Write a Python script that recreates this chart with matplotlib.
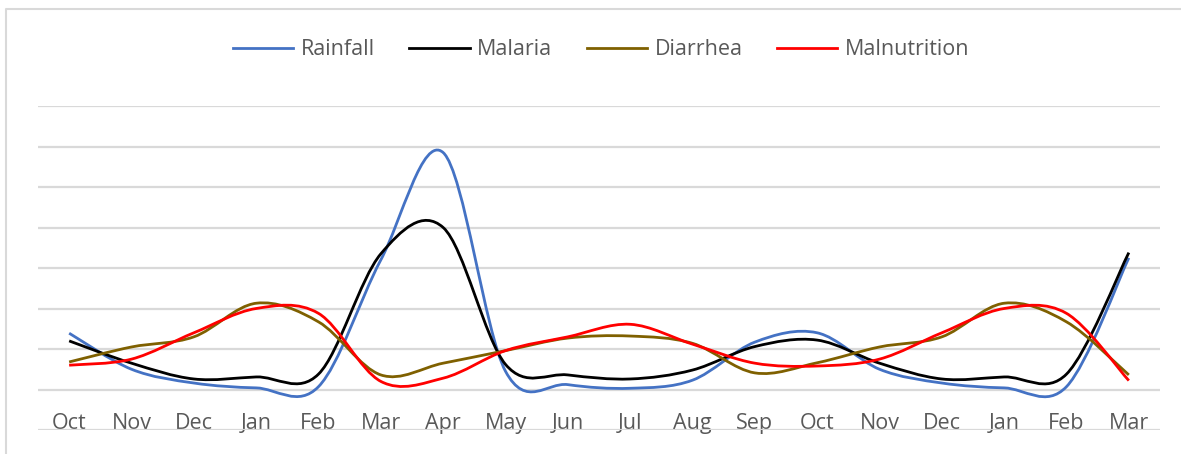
import numpy as np
import matplotlib.pyplot as plt
from matplotlib.lines import Line2D
from matplotlib.path import Path
from matplotlib.patches import PathPatch

months = ['Oct', 'Nov', 'Dec', 'Jan', 'Feb', 'Mar', 'Apr', 'May', 'Jun',
          'Jul', 'Aug', 'Sep', 'Oct', 'Nov', 'Dec', 'Jan', 'Feb', 'Mar']

rainfall = [2.39, 1.50, 1.16, 1.04, 1.07, 4.20, 6.85, 1.45, 1.12,
            1.03, 1.23, 2.17, 2.40, 1.50, 1.16, 1.04, 1.07, 4.25]
malaria = [2.20, 1.65, 1.26, 1.31, 1.38, 4.35, 5.00, 1.62, 1.36,
           1.26, 1.48, 2.06, 2.22, 1.65, 1.26, 1.31, 1.38, 4.38]
diarrhea = [1.68, 2.05, 2.30, 3.13, 2.67, 1.36, 1.65, 1.96, 2.27,
            2.32, 2.14, 1.41, 1.66, 2.05, 2.30, 3.13, 2.67, 1.36]
malnutrition = [1.60, 1.75, 2.40, 3.00, 2.88, 1.20, 1.28, 1.96, 2.30,
                2.61, 2.12, 1.65, 1.58, 1.75, 2.40, 3.00, 2.88, 1.22]

series = [('Rainfall', rainfall, '#4472c4'),
          ('Malaria', malaria, '#000000'),
          ('Diarrhea', diarrhea, '#7f6000'),
          ('Malnutrition', malnutrition, '#ff0000')]


def smooth_path(xs, ys):
    # cubic bezier through every point, tangents from neighbours (like Excel's smoothed line)
    pts = np.column_stack([xs, ys]).astype(float)
    padded = np.vstack([pts[0], pts, pts[-1]])
    verts = [pts[0]]
    codes = [Path.MOVETO]
    for i in range(len(pts) - 1):
        p0, p1, p2, p3 = padded[i], padded[i + 1], padded[i + 2], padded[i + 3]
        c1 = p1 + (p2 - p0) / 6.0
        c2 = p2 - (p3 - p1) / 6.0
        verts += [c1, c2, p2]
        codes += [Path.CURVE4] * 3
    return Path(verts, codes)


plt.rcParams['font.family'] = ['Open Sans', 'DejaVu Sans']

fig = plt.figure(figsize=(11.81, 4.54), dpi=100)
ax = fig.add_axes([38 / 1181, 24 / 454, 1122 / 1181, 324 / 454])

x = np.arange(len(months))
for name, vals, col in series:
    ax.add_patch(PathPatch(smooth_path(x, vals), facecolor='none',
                           edgecolor=col, lw=2.0, zorder=3))
    ax.plot([], [], color=col, lw=2.0, label=name)

ax.set_xlim(-0.5, len(months) - 0.5)
ax.set_ylim(0, 8)
ax.set_yticks(np.arange(0, 9))
ax.yaxis.grid(True, color='#d9d9d9', lw=1.6)
ax.set_axisbelow(True)
ax.tick_params(axis='y', left=False, labelleft=False)
ax.set_xticks(x)
ax.set_xticklabels(months, fontsize=15.5, color='#595959')
ax.tick_params(axis='x', length=0, pad=-12)
for sp in ax.spines.values():
    sp.set_visible(False)

ax.legend(loc='center', bbox_to_anchor=(0.502, (430 - 50) / 324),
          ncol=4, frameon=False, fontsize=15.5, handlelength=2.8,
          handletextpad=0.35, columnspacing=1.6, labelcolor='#595959')

# light border around the chart area (left and top edges)
fig.add_artist(Line2D([6 / 1181, 6 / 1181, 1.0], [0.0, 1 - 9 / 454, 1 - 9 / 454],
                      transform=fig.transFigure, color='#d9d9d9', lw=1.5))

fig.savefig('out.png', dpi=100)
